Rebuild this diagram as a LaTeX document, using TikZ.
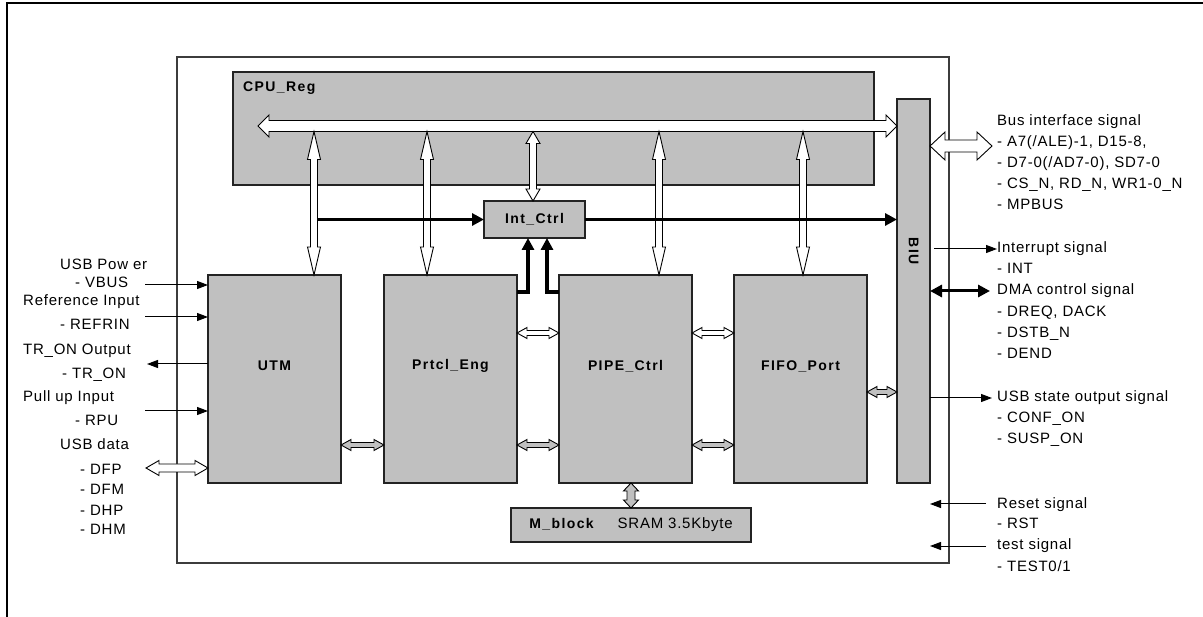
\documentclass[tikz,border=0pt]{standalone}
\usepackage{fontspec}
\setmainfont{Liberation Sans}[LetterSpace=5]
\newfontfamily\blockfont{Liberation Sans}[LetterSpace=10]
\usepackage{xcolor}
\definecolor{blockgray}{RGB}{192,192,192}
\definecolor{edge3}{RGB}{35,35,35}
\definecolor{frame3}{RGB}{60,60,60}
\usepackage{tikz}
\usetikzlibrary{arrows.meta, calc, positioning}

\begin{document}
\begin{tikzpicture}[x=1pt, y=-1pt,
    >=Triangle,
    block/.style={draw=edge3, line width=1.2pt, fill=blockgray,
        inner sep=0pt, outer sep=0pt},
    unit/.style={block, minimum width=133pt, minimum height=208pt},
    blocklabel/.style={font=\blockfont\bfseries\fontsize{14}{16}\selectfont,
        inner sep=0pt},
    txt/.style={font=\fontsize{15}{18}\selectfont, inner sep=0pt,
        anchor=west, text height=11pt, text depth=3pt},
    harrow/.code args={#1/#2/#3}{\def\arlen{#1}\def\arhead{#2}\def\arshaft{#3}},
    hollow/.style={draw=black, line width=0.9pt, fill=white, to path={
        -- ($(\tikztostart)!\arlen!(\tikztotarget)!\arhead!90:(\tikztotarget)$)
        -- ($(\tikztostart)!\arlen!(\tikztotarget)!\arshaft!90:(\tikztotarget)$)
        -- ($(\tikztotarget)!\arlen!(\tikztostart)!\arshaft!-90:(\tikztostart)$)
        -- ($(\tikztotarget)!\arlen!(\tikztostart)!\arhead!-90:(\tikztostart)$)
        -- (\tikztotarget)
        -- ($(\tikztotarget)!\arlen!(\tikztostart)!\arhead!90:(\tikztostart)$)
        -- ($(\tikztotarget)!\arlen!(\tikztostart)!\arshaft!90:(\tikztostart)$)
        -- ($(\tikztostart)!\arlen!(\tikztotarget)!\arshaft!-90:(\tikztotarget)$)
        -- ($(\tikztostart)!\arlen!(\tikztotarget)!\arhead!-90:(\tikztotarget)$)
        -- cycle}},
    sig/.style={line width=1pt, -{Triangle[length=11pt,width=8pt]}},
    irq/.style={line width=3.5pt, -{Triangle[length=12pt,width=12pt]}},
    dma/.style={line width=3pt,
        {Triangle[length=12pt,width=12pt]}-{Triangle[length=12pt,width=12pt]}}]

\useasboundingbox (0,0) rectangle (1203,617);
\fill[white] (0,0) rectangle (1203,617);

% Outer frame (only top and left edge show)
\draw[line width=1.5pt] (7,617) -- (7,3) -- (1203,3);

% Chip boundary
\node[draw=frame3, line width=1.3pt, inner sep=0pt, outer sep=0pt,
    minimum width=772pt, minimum height=506pt] (chip) at (563,310) {};

% Blocks
\node[block, minimum width=641pt, minimum height=113pt] (cpu) at (553.5,128.5) {};
\node[blocklabel, anchor=west] (cpulbl) at ($(cpu.north west)+(10,16)$) {CPU\_Reg};

\node[unit] (utm) at (274.5,379) {};
\node[unit, right=43pt of utm] (prtcl) {};
\node[unit, right=42pt of prtcl] (pipe) {};
\node[unit, right=42pt of pipe] (fifo) {};
\node[blocklabel] (utmlbl) at ([yshift=13pt]utm.center) {UTM};
\node[blocklabel] (prtcllbl) at ([yshift=13pt]prtcl.center) {Prtcl\_Eng};
\node[blocklabel] (pipelbl) at ([yshift=13pt]pipe.center) {PIPE\_Ctrl};
\node[blocklabel] (fifolbl) at ([yshift=13pt]fifo.center) {FIFO\_Port};

\node[block, blocklabel, minimum width=101pt, minimum height=37pt] (int)
    at (534.5,219.5) {Int\_Ctrl};

\node[block, minimum width=33pt, minimum height=384pt] (biu) at (913.5,291) {};
\node[blocklabel, rotate=-90] (biulbl) at (biu.center |- 0,251) {BIU};

\node[block, minimum width=240pt, minimum height=34pt,
    font=\fontsize{15}{18}\selectfont] (mblock) at (631,525)
    {{\blockfont\bfseries\fontsize{14}{16}\selectfont M\_block}\hspace{24pt}SRAM 3.5Kbyte};

% Internal bus and its taps
\coordinate (busL) at (258,126);
\coordinate (b1) at (314,131.5);
\coordinate (b2) at (427,131.5);
\coordinate (b3) at (533,131.5);
\coordinate (b4) at (659,131.5);
\coordinate (b5) at (803,131.5);

\draw[hollow, harrow=11pt/11pt/5.5pt] (busL) to (busL -| biu.west);
\draw[hollow, harrow=28pt/6.5pt/3.5pt] (b1) to (b1 |- utm.north);
\draw[hollow, harrow=28pt/6.5pt/3.5pt] (b2) to (b2 |- prtcl.north);
\draw[hollow, harrow=12pt/7pt/3.5pt] (b3) to (b3 |- int.north);
\draw[hollow, harrow=28pt/6.5pt/3.5pt] (b4) to (b4 |- pipe.north);
\draw[hollow, harrow=28pt/6.5pt/3.5pt] (b5) to (b5 |- fifo.north);

% Block to block links
\coordinate (up) at (0,333);
\coordinate (lo) at (0,445);
\coordinate (mid) at (0,392);
\draw[hollow, harrow=10pt/5.5pt/2.5pt, fill=blockgray] (utm.east |- lo) to (prtcl.west |- lo);
\draw[hollow, harrow=10pt/5.5pt/2.5pt] (prtcl.east |- up) to (pipe.west |- up);
\draw[hollow, harrow=10pt/5.5pt/2.5pt, fill=blockgray] (prtcl.east |- lo) to (pipe.west |- lo);
\draw[hollow, harrow=10pt/5.5pt/2.5pt] (pipe.east |- up) to (fifo.west |- up);
\draw[hollow, harrow=10pt/5.5pt/2.5pt, fill=blockgray] (pipe.east |- lo) to (fifo.west |- lo);
\draw[hollow, harrow=10pt/5.5pt/2.5pt, fill=blockgray] (fifo.east |- mid) to (biu.west |- mid);
\draw[hollow, harrow=8pt/7.5pt/4pt, fill=blockgray] (mblock.north |- pipe.south) to (mblock.north);

% Interrupt paths
\draw[irq] ($(b1 |- int.west)+(3.5,0)$) -- (int.west);
\draw[irq] (int.east) -- (int.east -| biu.west);
\draw[irq] ([yshift=-17pt]prtcl.north east) -| ([xshift=-6.5pt]int.south);
\draw[irq] ([yshift=-17pt]pipe.north west) -| ([xshift=12.5pt]int.south);

% Left side signals
\foreach \x/\y/\t [count=\i] in {60/266/USB Pow er, 75/284/- VBUS,
    23/302/Reference Input, 60/326/- REFRIN, 23/351/TR\_ON Output,
    62/375/- TR\_ON, 23/398/Pull up Input, 75/422/- RPU, 60/446/USB data,
    80/471/- DFP, 80/491/- DFM, 80/511/- DHP, 80/531/- DHM}
  \node[txt] (sl\i) at (\x,\y) {\t};

\coordinate (vbus) at (145,285);
\coordinate (refrin) at (145,317);
\coordinate (tron) at (147,364);
\coordinate (rpu) at (145,411);
\coordinate (usbdata) at (146,468);
\draw[sig] (vbus) -- (vbus -| utm.west);
\draw[sig] (refrin) -- (refrin -| utm.west);
\draw[sig] (tron -| utm.west) -- (tron);
\draw[sig] (rpu) -- (rpu -| utm.west);
\draw[hollow, harrow=13pt/7.5pt/4pt] (usbdata) to (usbdata -| utm.west);

% Right side signals
\foreach \y/\t [count=\i] in {122/Bus interface signal,
    143/{- A7(/ALE)-1, D15-8,}, 164/{- D7-0(/AD7-0), SD7-0},
    185/{- CS\_N, RD\_N, WR1-0\_N}, 206/- MPBUS,
    249/Interrupt signal, 270/- INT,
    291/DMA control signal, 313/{- DREQ, DACK}, 334/- DSTB\_N, 355/- DEND,
    398/USB state output signal, 419/- CONF\_ON, 440/- SUSP\_ON,
    504/Reset signal, 525/- RST, 546/test signal, 567/{- TEST0/1}}
  \node[txt] (sr\i) at (997,\y) {\t};

\draw[hollow, harrow=15pt/14pt/6pt] (biu.east |- 0,146) to ([shift={(-5pt,-3pt)}]sr2.west);
\draw[sig] ([xshift=4pt]biu.east |- sr6.west) -- (sr6.west);
\draw[dma] (biu.east |- sr8.west) -- ([xshift=-7pt]sr8.west);
\draw[sig] (biu.east |- sr12.west) -- ([xshift=-5pt]sr12.west);
\draw[sig] ([xshift=-11pt]sr15.west) -- (sr15.west -| biu.east);
\draw[sig] ([xshift=-11pt]sr17.west) -- (sr17.west -| biu.east);

\end{tikzpicture}
\end{document}
